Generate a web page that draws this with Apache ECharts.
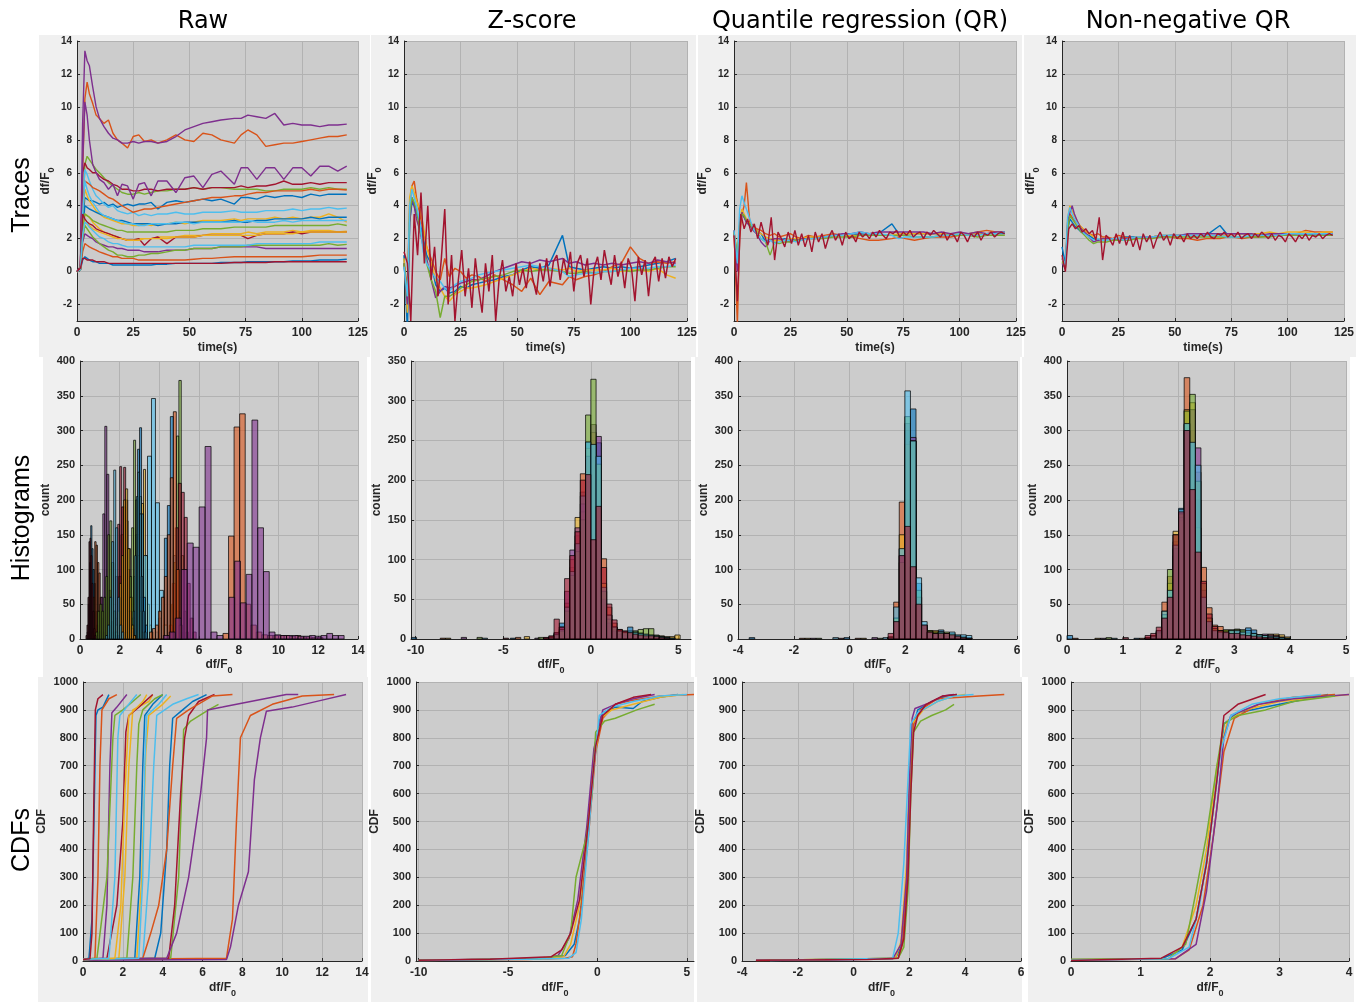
<!DOCTYPE html>
<html><head><meta charset="utf-8">
<script src="https://cdn.jsdelivr.net/npm/echarts@6/dist/echarts.min.js"></script>
<style>html,body{margin:0;padding:0;background:#fff}#c{width:1361px;height:1003px}</style>
</head><body><div id="c"></div>
<script>
// ---------------- DATA ----------------
const colTitles = ['Raw', 'Z-score', 'Quantile regression (QR)', 'Non-negative QR'];
const rowTitles = ['Traces', 'Histograms', 'CDFs'];

const timeS = [0,1.5,2.5,3.5,4.5,5.5, 7,8.5,10, 12,14,16,18,20, 22.5,25,27.5,30, 33,36,40, 44,48,52,56,60, 64,70,73,76,80, 84,88,92,96,100, 104,108,112,116,120];
const timeDense = [0,1.5,3,4.5,6,7.5,9,10.5,12,13.5, 15,16.5,18,19.5,21,22.5,24,25.5,27,28.5, 30,31.5,33,34.5,36,37.5,39,40.5,42,43.5, 45,46.5,48,49.5,51,52.5,54,55.5,57,58.5, 60,61.5,63,64.5,66,67.5,69,70.5,72,73.5, 75,76.5,78,79.5,81,82.5,84,85.5,87,88.5, 90,91.5,93,94.5,96,97.5,99,100.5,102,103.5, 105,106.5,108,109.5,111,112.5,114,115.5,117,118.5, 120];

// Raw traces (df/F0)
const rawB1 = [0,0.1,3.0,4.5,4.4,4.3, 4.3,4.2,4.1, 4.2,4.0,4.1,3.9,4.0, 4.1,4.0,4.1,4.1, 4.2,3.8,4.2, 4.3,4.2,4.3,4.4,4.3, 4.4,4.1,4.5,4.5,4.4, 4.6,4.5,4.6,4.6,4.5, 4.7,4.6,4.7,4.7,4.7];
const rawO1 = [0,0.2,6.0,10.5,11.5,10.8, 10.2,9.5,9.3, 9.0,9.2,8.4,8.0,7.8, 7.5,8.2,8.3,7.9, 8.0,7.8,8.0, 8.3,8.0,7.9,8.4,8.3, 8.0,7.8,8.3,8.6,8.3, 7.6,7.7,7.8,7.8,7.9, 8.0,8.1,8.2,8.2,8.3];
const rawY1 = [0,0.1,3.5,5.0,4.6,4.3, 4.0,3.7,3.5, 3.3,3.2,3.1,3.0,2.9, 2.9,2.8,2.8,2.9, 2.8,2.9,2.9, 3.0,2.9,3.0,3.1,3.1, 3.1,3.2,3.1,3.2,3.2, 3.2,3.3,3.2,3.3,3.2, 3.3,3.3,3.5,3.3,3.0];
const rawP1 = [0,0.3,9.0,13.4,12.8,12.5, 11.2,10.0,9.3, 8.8,8.4,8.1,8.0,7.8, 7.8,7.9,7.8,7.9, 7.9,7.8,7.9, 8.2,8.6,8.8,9.0,9.1, 9.2,9.3,9.3,9.5,9.4, 9.3,9.6,8.9,9.0,8.9, 8.9,8.8,8.9,8.9,8.95];
const rawG1 = [0,0.1,3.0,6.5,7.0,6.8, 6.5,6.2,6.0, 5.7,5.4,5.2,5.0,4.8, 4.7,4.7,4.8,4.7, 4.8,4.9,4.9, 5.0,5.0,5.1,5.0,5.1, 5.1,5.0,5.0,5.0,5.0, 4.9,4.9,5.0,5.0,5.0, 5.1,5.0,5.1,5.0,5.0];
const rawL1 = [0,0.2,4.0,6.2,5.9,5.5, 5.0,4.6,4.4, 4.1,3.9,4.0,3.7,3.6, 3.5,3.6,3.4,3.5, 3.4,3.5,3.5, 3.6,3.5,3.5,3.6,3.6, 3.6,3.7,3.6,3.6,3.6, 3.7,3.7,3.7,3.8,3.7, 3.8,3.8,3.9,3.8,3.85];
const rawR1 = [0,0.3,6.0,6.6,6.3,6.2, 6.0,6.0,5.8, 5.6,5.5,5.3,5.2,5.0, 5.0,4.9,4.9,5.0, 5.0,4.9,5.0, 5.0,5.0,5.1,5.0,5.1, 5.1,5.1,5.2,5.1,5.2, 5.2,5.3,5.5,5.3,5.3, 5.4,5.3,5.4,5.4,5.4];
const rawB2 = [0,0.1,2.5,4.0,3.9,3.8, 3.7,3.6,3.5, 3.4,3.3,3.2,3.1,3.1, 3.0,2.9,2.9,2.9, 2.9,2.8,2.9, 2.9,3.0,3.0,3.0,3.0, 3.0,3.1,3.0,3.0,3.1, 3.1,3.2,3.2,3.2,3.2, 3.3,3.2,3.3,3.3,3.3];
const rawO2 = [0,0.2,4.0,5.5,5.4,5.3, 5.1,5.0,4.9, 4.7,4.5,4.4,4.2,4.0, 3.8,3.6,3.7,3.8, 3.8,3.9,4.0, 4.1,4.2,4.3,4.4,4.5, 4.5,4.6,4.6,4.7,4.8, 4.8,4.9,4.9,4.9,4.9, 5.0,4.9,5.0,5.0,4.95];
const rawY2 = [0,0.1,2.5,3.5,3.4,3.3, 3.0,2.8,2.6, 2.4,2.3,2.2,2.1,2.0, 1.9,1.9,2.0,2.0, 2.0,2.1,2.1, 2.1,2.2,2.2,2.2,2.3, 2.3,2.3,2.3,2.4,2.3, 2.4,2.4,2.4,2.5,2.4, 2.5,2.5,2.5,2.4,2.45];
const rawP2 = [0,0.2,6.5,10.3,9.5,8.0, 6.5,6.0,5.6, 5.4,5.0,5.3,4.6,5.3, 5.2,4.4,5.3,5.4, 4.6,5.5,5.5, 4.8,5.7,5.8,5.1,5.9, 6.1,5.3,6.3,6.3,5.6, 6.3,6.3,5.6,6.3,6.3, 5.8,6.4,6.4,6.1,6.4];
const rawG2 = [0,0.1,2.5,3.5,3.4,3.3, 3.1,3.0,2.9, 2.8,2.7,2.6,2.5,2.5, 2.4,2.4,2.4,2.4, 2.4,2.4,2.4, 2.5,2.5,2.5,2.6,2.6, 2.6,2.7,2.7,2.7,2.7, 2.7,2.8,2.8,2.8,2.8, 2.8,2.8,2.8,2.9,2.8];
const rawL2 = [0,0.2,3.5,5.5,5.0,4.6, 4.2,3.9,3.6, 3.4,3.3,3.2,3.1,3.0, 2.9,2.9,2.8,2.8, 2.9,2.9,2.9, 3.0,3.0,2.9,3.0,3.0, 3.0,3.0,3.0,3.1,3.0, 3.0,3.0,3.1,3.0,3.1, 3.1,3.1,3.1,3.1,3.1];
const rawR2 = [0,0.2,3.5,3.2,3.0,2.9, 2.8,2.6,2.5, 2.4,2.3,2.2,2.1,2.0, 1.9,1.9,2.0,1.6, 2.0,2.1,1.7, 2.1,2.1,2.1,2.2,2.2, 2.2,2.2,2.2,2.0,2.2, 2.3,2.3,2.3,2.4,2.3, 2.4,2.4,2.4,2.4,2.4];
const rawB3 = [0,0.1,0.7,0.9,0.8,0.7, 0.6,0.6,0.5, 0.5,0.5,0.4,0.4,0.4, 0.4,0.4,0.4,0.4, 0.4,0.45,0.45, 0.5,0.5,0.5,0.5,0.5, 0.55,0.55,0.55,0.6,0.6, 0.6,0.6,0.6,0.65,0.65, 0.65,0.7,0.7,0.7,0.75];
const rawO3 = [0,0.1,1.2,1.7,1.6,1.5, 1.4,1.3,1.2, 1.1,1.0,0.9,0.9,0.8, 0.8,0.8,0.7,0.7, 0.7,0.7,0.7, 0.7,0.7,0.75,0.8,0.8, 0.85,0.9,0.9,0.9,0.9, 0.9,0.9,0.9,0.9,0.9, 0.95,1.0,1.0,1.0,1.0];
const rawY3 = [0,0.1,2.0,3.0,2.9,2.8, 2.6,2.5,2.4, 2.3,2.2,2.1,2.0,2.0, 1.9,1.9,1.9,2.0, 2.0,2.0,2.0, 2.1,2.1,2.1,2.2,2.2, 2.2,2.2,2.2,2.2,2.2, 2.3,2.3,2.3,2.3,2.4, 2.4,2.4,2.4,2.4,2.4];
const rawP3 = [0,0.1,1.8,2.3,2.2,2.1, 2.0,1.8,1.7, 1.6,1.5,1.5,1.4,1.4, 1.3,1.3,1.3,1.2, 1.2,1.2,1.3, 1.3,1.3,1.4,1.4,1.4, 1.5,1.5,1.5,1.5,1.5, 1.4,1.4,1.4,1.4,1.4, 1.4,1.4,1.4,1.4,1.4];
const rawG3 = [0,0.1,2.0,2.8,2.6,2.4, 2.1,1.9,1.7, 1.5,1.3,1.2,1.0,1.0, 0.9,0.9,1.0,1.0, 1.1,1.1,1.2, 1.3,1.3,1.4,1.4,1.4, 1.5,1.5,1.5,1.6,1.6, 1.6,1.6,1.6,1.6,1.6, 1.6,1.6,1.7,1.6,1.65];
const rawL3 = [0,0.1,2.2,3.0,2.9,2.7, 2.5,2.3,2.1, 2.0,1.8,1.7,1.7,1.6, 1.5,1.5,1.5,1.5, 1.5,1.5,1.5, 1.5,1.5,1.6,1.6,1.6, 1.6,1.6,1.6,1.6,1.7, 1.7,1.7,1.7,1.7,1.7, 1.7,1.8,1.8,1.8,1.8];
const rawR3 = [0,0.2,0.8,0.8,0.7,0.7, 0.7,0.6,0.6, 0.6,0.5,0.5,0.5,0.5, 0.5,0.5,0.5,0.5, 0.5,0.5,0.5, 0.5,0.5,0.5,0.5,0.5, 0.5,0.55,0.55,0.55,0.55, 0.55,0.6,0.6,0.6,0.6, 0.6,0.6,0.6,0.6,0.6];

// Z-score traces
const zB = [1.0,-3.5,3.0,4.2,4.0,3.5, 3.0,2.0,1.0, 0.5,-0.8,-1.2,-1.0,-1.3, -1.2,-0.9,-1.0,-0.8, -0.7,-0.6,-0.5, -0.3,-0.2,0.1,0.3,0.2, 0.4,2.2,0.3,0.2,0.1, 0.2,0.3,0.2,0.3,0.2, 0.3,0.4,0.5,0.6,0.8];
const zO = [0.5,-1.0,4.0,5.2,5.5,4.5, 3.5,2.5,1.5, 0.8,0.0,-0.5,0.8,-0.3, 0.2,0.0,-0.4,-0.2, -0.3,-0.6,-0.2, -0.5,-0.8,-1.2,-0.4,-1.4, -0.6,-0.8,-0.3,-0.5,-0.3, -0.2,0.0,0.3,0.5,1.5, 0.8,0.5,0.6,0.5,0.6];
const zY = [0.8,-2.5,4.5,5.2,4.8,4.3, 3.8,2.8,1.5, 0.5,-0.5,-1.0,-1.5,-1.8, -1.4,-1.2,-1.0,-1.0, -0.9,-0.8,-0.6, -0.4,-0.2,0.0,0.2,0.1, 0.2,0.1,0.2,0.0,0.1, 0.1,0.1,0.2,0.0,0.1, 0.1,0.0,0.2,-0.2,-0.4];
const zP = [0.5,-2.0,3.0,4.5,4.0,3.2, 2.5,1.5,0.8, -0.5,-1.6,-1.2,-0.9,-1.0, -0.9,-0.7,-0.6,-0.5, -0.5,-0.3,0.0, 0.2,0.4,0.6,0.5,0.7, 0.6,0.8,0.5,0.6,0.4, 0.5,0.4,0.5,0.4,0.5, 0.6,0.5,0.7,0.6,0.5];
const zG = [0.5,-1.5,3.5,4.5,4.2,3.8, 2.5,1.8,0.5, -0.5,-1.2,-2.8,-1.5,-1.5, -1.3,-1.0,-0.8,-0.6, -0.5,-0.4,-0.3, -0.2,0.0,0.1,0.0,0.1, 0.1,0.0,-0.1,-0.1,0.0, -0.1,0.0,0.0,0.1,0.0, 0.1,0.1,0.2,0.3,0.3];
const zL = [0.3,-1.5,4.0,5.0,4.5,4.0, 3.0,1.2,0.5, 0.0,-0.4,-0.6,-1.0,-1.2, -0.8,-0.6,-0.5,-0.4, -0.2,-0.1,0.0, 0.1,0.2,0.3,0.4,0.3, 0.2,0.0,-0.3,-0.2,-0.1, -0.1,0.0,0.0,0.1,0.2, 0.2,0.2,0.3,0.3,0.4];
// dark red z-score trace, sampled on timeDense
const zR = [1.2,0.5,-3.0,3.5,1.0,4.8,0.5,4.0,-0.5,1.5, -1.5,0.8,3.8,-2.0,1.0,-3.0,-0.5,1.3,-1.5,0.2, -2.2,0.8,-1.0,-2.5,0.5,-1.2,1.0,-3.0,-0.5,0.7, -1.2,-0.3,-1.5,0.5,-0.8,0.2,-1.0,0.6,-0.5,-1.4, 0.5,-0.6,0.8,-0.9,0.6,1.0,-0.5,0.8,-0.2,1.2, -1.2,0.5,1.0,-0.3,0.8,-2.0,0.2,0.9,-0.5,1.3, 0.2,-0.8,1.0,-0.3,0.6,-1.0,0.8,0.2,-1.8,0.9, -0.2,0.7,-1.5,0.5,0.9,-0.6,0.8,-0.4,0.9,0.3, 0.8];

// Quantile-regression traces
const qB = [2.3,0.8,2.5,3.5,3.3,3.0, 2.8,2.6,2.5, 2.3,1.8,2.0,1.9,1.9, 2.0,1.9,2.0,2.0, 2.0,2.1,2.1, 2.2,2.2,2.2,2.3,2.2, 2.3,2.9,2.3,2.3,2.3, 2.3,2.3,2.3,2.3,2.2, 2.3,2.3,2.3,2.3,2.3];
const qO = [2.5,-3.2,2.0,3.5,4.0,5.4, 3.0,2.8,2.6, 2.5,2.3,2.2,2.3,2.1, 2.2,2.3,2.1,2.0, 2.2,2.1,2.2, 2.3,2.2,2.1,2.0,1.9, 1.9,2.0,2.1,2.0,1.9, 2.0,2.1,2.1,2.1,2.2, 2.3,2.4,2.5,2.4,2.4];
const qY = [2.4,1.0,3.0,3.8,3.5,3.2, 2.9,2.6,2.5, 2.3,2.1,2.0,1.9,1.9, 1.9,2.0,2.0,2.0, 2.1,2.1,2.1, 2.2,2.2,2.2,2.2,2.2, 2.2,2.2,2.3,2.3,2.3, 2.3,2.3,2.3,2.3,2.3, 2.3,2.3,2.3,2.2,2.2];
const qP = [2.5,0.0,2.8,3.6,3.3,3.0, 2.8,2.5,2.3, 1.8,1.5,1.9,2.0,2.0, 1.9,1.8,1.9,2.0, 2.0,2.0,2.1, 2.2,2.3,2.3,2.4,2.3, 2.4,2.4,2.4,2.4,2.4, 2.4,2.3,2.4,2.3,2.4, 2.3,2.4,2.3,2.4,2.4];
const qG = [2.4,1.0,2.8,3.5,3.4,3.1, 2.9,2.6,2.4, 2.0,1.8,1.0,1.8,1.7, 1.8,1.8,1.9,1.9, 2.0,2.0,2.0, 2.1,2.1,2.1,2.2,2.2, 2.2,2.2,2.2,2.2,2.1, 2.1,2.1,2.2,2.2,2.2, 2.2,2.1,2.2,2.2,2.2];
const qL = [2.5,0.5,3.8,4.6,4.2,3.8, 3.2,2.6,2.3, 2.0,1.8,1.9,1.7,1.8, 1.9,1.9,1.8,1.9, 2.0,2.0,2.1, 2.2,2.2,2.3,2.4,2.3, 2.3,2.2,2.0,2.1,2.1, 2.1,2.1,2.2,2.2,2.3, 2.2,2.2,2.3,2.3,2.4];
const qR = [2.2,-1.8,3.5,2.6,3.2,2.4,2.9,2.0,3.0,2.2, 1.6,3.3,0.7,2.4,2.0,1.5,2.4,1.7,2.5,1.6, 2.3,1.5,2.2,1.2,2.4,1.8,2.3,1.4,2.1,2.5, 1.9,2.3,1.6,2.4,2.0,2.2,1.8,2.4,2.1,2.3, 2.0,2.4,2.1,2.5,2.2,2.0,2.4,2.3,2.5,2.1, 2.4,2.2,2.5,2.1,2.3,2.4,2.0,2.4,2.2,2.5, 2.3,2.1,2.4,1.9,2.3,2.2,1.8,2.4,2.2,1.8, 2.3,2.1,2.4,1.9,2.3,2.2,2.4,2.1,2.3,2.4, 2.3];

// Non-negative QR traces
const nB = [1.5,0.5,2.5,3.2,3.0,2.8, 2.6,2.4,2.3, 2.2,2.0,1.9,2.0,2.0, 2.0,2.0,2.1,2.1, 2.1,2.1,2.1, 2.2,2.2,2.2,2.2,2.2, 2.2,2.8,2.3,2.3,2.3, 2.3,2.3,2.2,2.2,2.2, 2.2,2.2,2.3,2.3,2.3];
const nO = [0.8,0.2,2.8,3.5,3.3,3.1, 2.9,2.7,2.5, 2.3,2.2,2.3,2.1,2.1, 2.0,2.2,2.1,2.0, 2.0,2.1,2.1, 2.2,2.1,2.0,2.0,1.9, 2.0,2.0,2.1,2.1,2.0, 2.1,2.1,2.2,2.2,2.2, 2.3,2.5,2.4,2.4,2.4];
const nY = [0.5,0.5,3.2,4.0,3.7,3.4, 3.0,2.7,2.5, 2.3,2.1,2.0,2.0,1.9, 2.0,2.0,2.0,2.0, 2.1,2.1,2.1, 2.2,2.2,2.2,2.2,2.2, 2.2,2.2,2.2,2.3,2.3, 2.3,2.3,2.4,2.3,2.4, 2.4,2.4,2.3,2.4,2.4];
const nP = [0.5,0.2,3.0,3.6,4.0,3.5, 3.0,2.6,2.4, 2.1,1.8,1.9,2.0,2.0, 2.0,1.9,2.0,2.0, 2.0,2.1,2.1, 2.1,2.2,2.2,2.3,2.3, 2.3,2.3,2.3,2.3,2.3, 2.3,2.2,2.3,2.3,2.3, 2.3,2.3,2.3,2.3,2.3];
const nG = [0.6,0.3,2.6,3.4,3.2,3.0, 2.7,2.4,2.2, 1.9,1.7,1.8,1.8,1.8, 1.9,1.9,1.9,1.9, 2.0,2.0,2.0, 2.1,2.1,2.1,2.1,2.1, 2.1,2.1,2.1,2.1,2.1, 2.1,2.1,2.1,2.2,2.2, 2.2,2.2,2.2,2.2,2.2];
const nL = [0.8,0.4,3.3,3.9,3.5,3.2, 2.9,2.5,2.3, 2.1,1.9,2.0,1.9,1.9, 2.0,2.0,1.9,2.0, 2.1,2.1,2.1, 2.2,2.2,2.2,2.2,2.2, 2.2,2.2,2.1,2.1,2.1, 2.2,2.2,2.2,2.2,2.3, 2.3,2.3,2.3,2.3,2.3];
const nR = [1.0,0.0,2.6,2.9,2.6,2.8,2.4,2.6,2.3,2.5, 1.9,3.3,0.7,2.2,2.0,1.6,2.3,1.7,2.4,1.6, 2.2,1.5,2.1,1.3,2.3,1.8,2.2,1.4,2.0,2.4, 1.9,2.2,1.6,2.3,2.0,2.2,1.8,2.3,2.0,2.2, 2.0,2.3,2.1,2.4,2.1,2.0,2.3,2.2,2.4,2.1, 2.3,2.1,2.4,2.0,2.2,2.3,2.0,2.3,2.1,2.4, 2.2,2.0,2.3,1.9,2.2,2.1,1.8,2.3,2.1,1.8, 2.2,2.0,2.3,1.9,2.2,2.1,2.3,2.0,2.2,2.3, 2.2];

// Raw histograms: bin start, bin width, counts
const hB1 = {start:3.8,  width:0.15, counts:[10,30,60,145,192,320,120,40,10]};
const hO1 = {start:7.2,  width:0.28, counts:[8,148,305,324,50,20,10,6,5,5,5,5,4,5,3,3,2,2]};
const hY1 = {start:2.6,  width:0.1,  counts:[5,30,80,150,205,195,244,120,50,20,10]};
const hP1 = {start:7.5,  width:0.29, counts:[60,112,52,93,315,160,97,10,6,5,5,5,4,4,5,4,5,8,5,5]};
const hG1 = {start:4.5,  width:0.12, counts:[10,50,110,292,372,120,40,10]};
const hL1 = {start:2.8,  width:0.2,  counts:[20,60,120,263,346,196,70,20]};
const hR1 = {start:4.5,  width:0.15, counts:[20,80,160,224,211,175,80,30,10]};
const hB2 = {start:2.5,  width:0.1,  counts:[10,30,90,150,273,304,180,60,20]};
const hO2 = {start:3.5,  width:0.15, counts:[10,15,20,40,60,90,150,232,327,100,20]};
const hY2 = {start:1.7,  width:0.12, counts:[10,30,90,150,190,170,130,60,30,10]};
const hP2 = {start:4.2,  width:0.3,  counts:[5,10,30,100,138,132,190,277,10,5]};
const hG2 = {start:2.3,  width:0.1,  counts:[10,40,90,160,286,200,120,40,10]};
const hL2 = {start:2.6,  width:0.08, counts:[10,40,120,205,240,180,90,40,10]};
const hR2 = {start:1.6,  width:0.1,  counts:[10,40,90,165,248,190,247,200,100,40,15,5]};
const hB3 = {start:0.36, width:0.06, counts:[10,50,110,163,130,100,80,40,20,8]};
const hO3 = {start:0.6,  width:0.07, counts:[10,60,140,135,110,95,60,30,10]};
const hY3 = {start:1.7,  width:0.1,  counts:[5,20,40,80,120,200,216,130,60,20,5]};
const hP3 = {start:0.85, width:0.1,  counts:[5,10,60,180,306,237,70,25,10,5,5]};
const hG3 = {start:0.8,  width:0.1,  counts:[10,40,50,40,60,90,150,170,110,40,10]};
const hL3 = {start:1.3,  width:0.1,  counts:[5,20,60,140,243,160,60,20,10]};
const hR3 = {start:0.3,  width:0.05, counts:[5,20,60,140,145,120,80,40,15,5]};

// Z-score histograms (shared bins)
const zBinStart = -2.7, zBinWidth = 0.3;
const zhB = [1,3,8,20,30,60,100,185,248,240,247,60,25,12,10,10,15,10,8,6,5,4,3,2,1,0];
const zhO = [1,2,6,12,45,90,130,208,230,250,200,101,40,20,12,8,8,6,5,4,3,2,2,1,0,0];
const zhY = [0,2,5,10,40,100,153,160,240,260,220,70,30,15,10,8,8,7,6,5,4,4,4,3,3,5];
const zhP = [1,2,8,15,60,112,140,170,230,270,255,50,20,10,6,5,5,4,3,2,2,1,1,0,0,0];
const zhG = [0,2,5,10,35,80,110,150,282,327,220,60,25,15,10,9,8,10,12,13,13,5,3,2,1,0];
const zhL = [1,2,6,12,40,85,120,180,248,245,230,65,30,15,10,8,10,8,7,6,5,4,3,2,1,0];
const zhR = [2,4,25,15,76,105,135,200,207,125,167,90,44,24,12,10,8,6,5,4,4,3,2,1,0,0];
const zTail = [[-10.25,2],[-8.6,1],[-8.3,1],[-7.4,2],[-6.5,2],[-6.2,1],[-5.0,1],[-4.6,1],[-4.3,2],[-3.8,3],[-3.2,1],[-3.0,2]];

// QR histograms
const qBinStart = 1.38, qBinWidth = 0.2;
const qhB = [2,20,130,300,331,80,20,10,10,13,8,6,4,3,1];
const qhO = [3,53,197,200,200,60,15,12,10,8,6,4,3,2,1];
const qhY = [2,30,150,280,285,50,15,10,12,10,8,6,4,3,2];
const qhP = [2,25,120,310,290,60,18,8,6,5,4,3,2,1,1];
const qhG = [3,30,110,320,285,70,20,12,10,10,10,8,5,3,0];
const qhL = [2,46,130,357,285,88,25,10,8,10,8,10,6,6,5];
const qhR = [8,25,120,162,104,50,20,10,8,8,8,6,4,2,1];
const qTail = [[-3.6,2],[-1.8,1],[-1.6,1],[-1.4,1],[-1.2,1],[-0.6,2],[-0.4,1],[-0.2,2],[0.2,1],[0.4,1],[0.8,2],[1.0,1],[1.2,2]];

// Non-negative QR histograms
const nBinStart = 1.4, nBinWidth = 0.1;
const nhB = [1,3,8,25,45,120,188,309,250,200,50,20,10,10,12,13,12,13,16,13,6,5,4,3,2,1];
const nhO = [2,5,12,53,90,140,180,376,300,240,103,45,20,18,12,10,9,8,6,5,4,3,2,2,1,0];
const nhY = [1,4,10,40,80,155,170,330,340,160,60,30,15,12,13,12,10,9,8,7,6,5,7,7,6,3];
const nhP = [1,3,8,30,60,130,175,300,330,275,70,25,12,10,8,8,14,10,8,6,5,7,6,5,3,1];
const nhG = [2,5,10,35,100,150,180,328,352,227,80,30,15,12,13,13,14,13,9,8,6,5,4,3,2,1];
const nhL = [1,4,12,40,70,135,186,310,283,250,60,25,12,10,10,12,12,10,12,8,6,5,4,3,2,1];
const nhR = [5,8,17,30,60,150,183,300,215,125,83,36,18,12,10,8,8,6,5,4,3,2,2,1,0,0];
const nTail = [[0.0,5],[0.1,1],[0.5,1],[0.6,1],[0.7,2],[0.8,1],[1.0,2],[1.2,1],[1.3,1]];

// Raw CDFs [df/F0, cumulative count]
const cRawB1 = [[0,5],[3.6,10],[3.9,100],[4.2,400],[4.35,700],[4.5,870],[5.0,900],[5.5,930],[6.2,955]];
const cRawO1 = [[0,5],[7.2,10],[7.5,150],[7.7,500],[7.9,800],[8.4,880],[9.5,920],[11,950],[12.6,955]];
const cRawY1 = [[0,5],[2.7,10],[2.95,300],[3.15,750],[3.3,880],[4.0,920],[4.4,950]];
const cRawP1 = [[0,3],[7.2,5],[7.4,50],[7.8,200],[8.3,320],[8.6,650],[8.9,800],[9.2,895],[10.5,910],[12,935],[13.2,955]];
const cRawG1 = [[0,5],[4.4,10],[4.8,300],[4.95,600],[5.05,830],[5.4,860],[6.3,900],[6.8,920]];
const cRawL1 = [[0,5],[3.0,10],[3.3,300],[3.55,700],[3.7,880],[4.5,920],[5.2,940],[5.8,955]];
const cRawR1 = [[0,5],[4.3,10],[4.6,200],[4.9,600],[5.1,800],[5.3,880],[5.8,930],[6.6,955]];
const cRawB2 = [[0,5],[2.6,10],[2.85,300],[3.0,700],[3.1,880],[3.5,920],[4.0,955]];
const cRawO2 = [[0,5],[3.0,10],[3.4,100],[3.8,200],[4.2,400],[4.5,700],[4.7,870],[5.3,900],[6.5,950],[7.5,955]];
const cRawY2 = [[0,5],[1.8,10],[2.1,300],[2.3,700],[2.5,900],[3.3,930],[3.5,955]];
const cRawP2 = [[0,5],[4.2,10],[4.7,100],[5.3,300],[5.9,600],[6.2,800],[6.25,900],[7.0,910],[10.2,955],[10.8,955]];
const cRawG2 = [[0,5],[2.2,10],[2.5,300],[2.7,700],[2.8,850],[3.0,900],[3.6,940],[4.0,955]];
const cRawL2 = [[0,5],[2.8,10],[3.0,300],[3.1,700],[3.2,880],[3.8,920],[4.2,955]];
const cRawR2 = [[0,5],[1.2,10],[1.7,200],[2.0,500],[2.15,820],[2.3,880],[2.8,910],[3.5,955]];
const cRawB3 = [[0,5],[0.3,10],[0.45,150],[0.55,500],[0.65,880],[0.75,900],[1.0,910],[1.3,955]];
const cRawO3 = [[0,5],[0.6,10],[0.75,300],[0.85,700],[0.95,900],[1.3,940],[1.7,955]];
const cRawY3 = [[0,5],[1.6,10],[1.9,200],[2.1,600],[2.3,880],[3.0,930],[3.2,955]];
const cRawP3 = [[0,5],[1.0,10],[1.2,200],[1.35,700],[1.45,890],[1.7,910],[2.2,955]];
const cRawG3 = [[0,5],[0.7,10],[1.2,300],[1.5,800],[1.6,880],[2.0,900],[2.5,930],[2.9,955]];
const cRawL3 = [[0,5],[1.3,10],[1.6,300],[1.75,800],[1.85,880],[2.3,920],[2.7,955]];
const cRawR3 = [[0,5],[0.35,8],[0.45,100],[0.55,600],[0.62,900],[0.75,940],[1.0,955]];

// Z-score CDFs
const czB = [[-10,3],[-5,6],[-2.5,10],[-1.8,20],[-1.3,60],[-1.0,150],[-0.6,400],[-0.2,700],[0.1,860],[0.3,890],[1,910],[2,905],[2.5,930],[3.5,945],[4.5,955]];
const czO = [[-10,2],[-4,5],[-1.8,10],[-1.4,15],[-1.2,60],[-0.9,200],[-0.5,450],[-0.1,750],[0.3,870],[1.0,920],[2.0,935],[3.5,950],[5.4,955]];
const czY = [[-10,3],[-3,8],[-1.9,15],[-1.5,60],[-1.0,200],[-0.6,450],[-0.2,720],[0.2,870],[0.8,900],[2,920],[3.5,945],[4.8,955]];
const czP = [[-10,3],[-3,10],[-2.2,20],[-1.6,80],[-1.1,220],[-0.6,480],[-0.2,760],[0.3,900],[1.0,920],[2,940],[3.2,955]];
const czG = [[-10,3],[-3.3,8],[-2.0,20],[-1.5,100],[-1.2,300],[-0.6,450],[-0.3,600],[-0.1,820],[0.4,860],[1,870],[2.2,900],[3.2,920]];
const czL = [[-10,2],[-4,6],[-1.6,10],[-1.2,30],[-0.9,150],[-0.5,450],[-0.2,700],[0.1,880],[0.8,910],[2,930],[3.5,950],[5,955]];
const czR = [[-10,3],[-6,6],[-2.6,15],[-2.0,40],[-1.5,100],[-1.0,220],[-0.5,500],[-0.1,770],[0.3,880],[1.0,920],[2.0,945],[3.0,955]];

// QR CDFs
const cqB = [[-3.5,3],[0,5],[1.5,10],[1.7,50],[1.9,300],[2.0,600],[2.1,830],[2.3,900],[2.8,930],[3.3,950],[3.7,955]];
const cqO = [[-3.5,2],[-2,4],[1.6,10],[1.75,60],[1.9,250],[2.05,650],[2.15,850],[2.4,900],[3.0,940],[4.5,950],[5.4,955]];
const cqY = [[-3,3],[1.5,10],[1.7,70],[1.9,350],[2.0,650],[2.1,850],[2.5,900],[3.0,930],[3.6,950],[4.0,955]];
const cqP = [[-3,3],[1.4,8],[1.7,60],[1.9,300],[2.0,650],[2.1,870],[2.2,905],[2.6,920],[3.2,950],[3.6,955]];
const cqG = [[-3,3],[1.6,10],[1.8,50],[1.95,250],[2.05,600],[2.15,820],[2.4,860],[2.8,880],[3.3,900],[3.6,920]];
const cqL = [[-3,2],[1.4,10],[1.6,100],[1.8,350],[1.95,650],[2.05,850],[2.3,890],[3.0,930],[3.6,950],[4.3,955]];
const cqR = [[-3.5,3],[0.5,5],[1.6,10],[1.8,80],[1.95,300],[2.05,600],[2.15,820],[2.3,880],[2.6,920],[3.2,950],[3.7,955]];

// Non-negative QR CDFs
const cnB = [[0,5],[1.3,8],[1.6,40],[1.8,150],[1.95,350],[2.1,650],[2.2,850],[2.4,890],[2.8,910],[3.2,930],[3.7,955]];
const cnO = [[0,3],[1.5,8],[1.7,40],[1.9,200],[2.05,450],[2.2,750],[2.35,870],[2.7,920],[3.2,945],[3.8,955]];
const cnY = [[0,5],[1.4,8],[1.6,50],[1.8,200],[1.95,400],[2.1,700],[2.25,860],[2.5,900],[3.0,930],[3.6,945],[4.0,955]];
const cnP = [[0,4],[1.5,8],[1.8,60],[1.95,250],[2.1,550],[2.2,800],[2.3,880],[2.7,920],[3.2,940],[4.0,955]];
const cnG = [[0,5],[1.4,8],[1.65,60],[1.8,250],[1.95,450],[2.1,700],[2.2,850],[2.4,880],[2.8,900],[3.2,930],[3.8,950]];
const cnL = [[0,3],[1.4,8],[1.7,50],[1.85,200],[2.0,450],[2.15,750],[2.3,880],[2.6,920],[3.0,940],[3.6,955]];
const cnR = [[0,2],[1.3,10],[1.6,50],[1.8,150],[1.95,350],[2.1,650],[2.2,880],[2.4,920],[2.8,955]];

// tick labels
const traceYTicks = [-2,0,2,4,6,8,10,12,14];
const zTicks = [-10,-5,0,5];

// ---------------- STYLE / BUILD ----------------
const PAL = ['#0072BD','#D95319','#EDB120','#7E2F8E','#77AC30','#4DBEEE','#A2142F'];
const TXT = '#262626';
const FONT = '"Liberation Sans", Arial, Helvetica, sans-serif';
function rgba(hex, a) { const n = parseInt(hex.slice(1), 16); return 'rgba(' + (n >> 16) + ',' + ((n >> 8) & 255) + ',' + (n & 255) + ',' + a + ')'; }

const rawTraces = [rawB1,rawO1,rawY1,rawP1,rawG1,rawL1,rawR1, rawB2,rawO2,rawY2,rawP2,rawG2,rawL2,rawR2, rawB3,rawO3,rawY3,rawP3,rawG3,rawL3,rawR3];
const zTraces = [zB,zO,zY,zP,zG,zL];
const qTraces = [qB,qO,qY,qP,qG,qL];
const nTraces = [nB,nO,nY,nP,nG,nL];
const rawHists = [hB1,hO1,hY1,hP1,hG1,hL1,hR1, hB2,hO2,hY2,hP2,hG2,hL2,hR2, hB3,hO3,hY3,hP3,hG3,hL3,hR3];
const zHists = [zhB,zhO,zhY,zhP,zhG,zhL,zhR].map(c => ({start: zBinStart, width: zBinWidth, counts: c}));
const qHists = [qhB,qhO,qhY,qhP,qhG,qhL,qhR].map(c => ({start: qBinStart, width: qBinWidth, counts: c}));
const nHists = [nhB,nhO,nhY,nhP,nhG,nhL,nhR].map(c => ({start: nBinStart, width: nBinWidth, counts: c}));
const rawCdfs = [cRawB1,cRawO1,cRawY1,cRawP1,cRawG1,cRawL1,cRawR1, cRawB2,cRawO2,cRawY2,cRawP2,cRawG2,cRawL2,cRawR2, cRawB3,cRawO3,cRawY3,cRawP3,cRawG3,cRawL3,cRawR3];
const zCdfs = [czB,czO,czY,czP,czG,czL,czR];
const qCdfs = [cqB,cqO,cqY,cqP,cqG,cqL,cqR];
const nCdfs = [cnB,cnO,cnY,cnP,cnG,cnL,cnR];

const gridBoxes = [
  [77,41,281,280],[404,41,283,280],[734,41,282,280],[1062,41,282,280],
  [80,361,278,278],[411,361,280,278],[738,361,279,278],[1067,361,279,278],
  [83,682,279,279],[416,682,278,279],[742,682,279,279],[1071,682,278,279]
];

const dfName = '{a|df/F}{s|0}';
const nameStyle = {
  color: TXT, fontFamily: FONT, fontWeight: 'bold', fontSize: 12,
  rich: {
    a: {color: TXT, fontFamily: FONT, fontWeight: 'bold', fontSize: 12, verticalAlign: 'bottom', padding: [0,0,4,0]},
    s: {color: TXT, fontFamily: FONT, fontWeight: 'bold', fontSize: 9, verticalAlign: 'bottom'}
  }
};

const xCfg = [
  {min:0,max:125,interval:25,name:'time(s)',gap:21}, {min:0,max:125,interval:25,name:'time(s)',gap:21},
  {min:0,max:125,interval:25,name:'time(s)',gap:21}, {min:0,max:125,interval:25,name:'time(s)',gap:21},
  {min:0,max:14,interval:2,name:dfName,gap:20}, {min:-10.27,max:5.72,ticks:zTicks,name:dfName,gap:20},
  {min:-4,max:6,interval:2,name:dfName,gap:20}, {min:0,max:5,interval:1,name:dfName,gap:20},
  {min:0,max:14,interval:2,name:dfName,gap:21}, {min:-10.15,max:5.4,ticks:zTicks,name:dfName,gap:21},
  {min:-4,max:6,interval:2,name:dfName,gap:21}, {min:0,max:4,interval:1,name:dfName,gap:21}
];
const yCfg = [];
for (let c = 0; c < 4; c++) yCfg.push({min:-3,max:14,ticks:traceYTicks,name:dfName,gap:21,fs:10});
yCfg.push({min:0,max:400,interval:50,name:'count',gap:28});
yCfg.push({min:0,max:350,interval:50,name:'count',gap:28});
yCfg.push({min:0,max:400,interval:50,name:'count',gap:28});
yCfg.push({min:0,max:400,interval:50,name:'count',gap:28});
for (let c = 0; c < 4; c++) yCfg.push({min:0,max:1000,interval:100,name:'CDF',gap:35});

function makeAxis(gi, o, isX) {
  const ax = {
    type: 'value', gridIndex: gi, min: o.min, max: o.max,
    name: o.name, nameLocation: 'middle', nameGap: o.gap, nameTextStyle: nameStyle,
    axisLine: {show: true, onZero: false, lineStyle: {color: TXT, width: 1}},
    axisTick: {show: true, inside: true, length: 3, lineStyle: {color: TXT}},
    axisLabel: {color: TXT, fontFamily: FONT, fontWeight: 'bold', fontSize: o.fs || (isX ? 12 : 11), margin: isX ? 6 : 5,
      showMinLabel: true, showMaxLabel: true, formatter: function (v) { return String(v); }},
    splitLine: {show: true, lineStyle: {color: '#b2b2b2', width: 1}}
  };
  if (o.ticks) { ax.axisLabel.customValues = o.ticks; ax.axisTick.customValues = o.ticks; }
  else ax.interval = o.interval;
  return ax;
}

const grids = gridBoxes.map(b => ({left: b[0], top: b[1], width: b[2], height: b[3], show: true, backgroundColor: '#cccccc', borderWidth: 0}));
const xAxes = xCfg.map((o, i) => makeAxis(i, o, true));
const yAxes = yCfg.map((o, i) => makeAxis(i, o, false));

const series = [];
function addLine(gi, data, color, w) {
  series.push({type: 'line', xAxisIndex: gi, yAxisIndex: gi, data: data, showSymbol: false, symbol: 'none',
    lineStyle: {color: color, width: w}, itemStyle: {color: color}, animation: false, silent: true, clip: true});
}
function addBars(gi, items, color) {
  series.push({type: 'custom', xAxisIndex: gi, yAxisIndex: gi, data: items, encode: {x: [0, 1], y: 2},
    animation: false, silent: true,
    renderItem: function (params, api) {
      const p0 = api.coord([api.value(0), api.value(2)]);
      const p1 = api.coord([api.value(1), 0]);
      return {type: 'rect', shape: {x: p0[0], y: p0[1], width: p1[0] - p0[0], height: p1[1] - p0[1]},
        style: {fill: rgba(color, 0.6), stroke: 'rgba(0,0,0,0.9)', lineWidth: 0.8}};
    }});
}
function histItems(h) {
  const out = [];
  h.counts.forEach((c, k) => { if (c > 0) out.push([h.start + k * h.width, h.start + (k + 1) * h.width, c]); });
  return out;
}
const pairs = (ts, a) => ts.map((t, j) => [t, a[j]]);

// Traces row
rawTraces.forEach((a, k) => addLine(0, pairs(timeS, a), PAL[k % 7], 1.4));
zTraces.forEach((a, k) => addLine(1, pairs(timeS, a), PAL[k % 7], 1.5));
addLine(1, pairs(timeDense, zR), PAL[6], 1.5);
qTraces.forEach((a, k) => addLine(2, pairs(timeS, a), PAL[k % 7], 1.4));
addLine(2, pairs(timeDense, qR), PAL[6], 1.4);
nTraces.forEach((a, k) => addLine(3, pairs(timeS, a), PAL[k % 7], 1.4));
addLine(3, pairs(timeDense, nR), PAL[6], 1.4);

// Histograms row
rawHists.forEach((h, k) => addBars(4, histItems(h), PAL[k % 7]));
zTail.forEach((p, k) => addBars(5, [[p[0], p[0] + zBinWidth, p[1]]], PAL[k % 7]));
zHists.forEach((h, k) => addBars(5, histItems(h), PAL[k % 7]));
qTail.forEach((p, k) => addBars(6, [[p[0], p[0] + qBinWidth, p[1]]], PAL[k % 7]));
qHists.forEach((h, k) => addBars(6, histItems(h), PAL[k % 7]));
nTail.forEach((p, k) => addBars(7, [[p[0], p[0] + nBinWidth, p[1]]], PAL[k % 7]));
nHists.forEach((h, k) => addBars(7, histItems(h), PAL[k % 7]));

// CDF row
rawCdfs.forEach((d, k) => addLine(8, d, PAL[k % 7], 1.5));
zCdfs.forEach((d, k) => addLine(9, d, PAL[k % 7], 1.5));
qCdfs.forEach((d, k) => addLine(10, d, PAL[k % 7], 1.5));
nCdfs.forEach((d, k) => addLine(11, d, PAL[k % 7], 1.5));

// Figure background panels, titles, row labels
const panels = [
  [39,35,331,322],[371,35,325,322],[698,35,324,322],[1024,35,332,322],
  [43,357,324,320],[371,357,320,320],[695,357,325,320],[1022,357,328,320],
  [38,677,330,325],[371,677,323,325],[697,677,325,325],[1028,677,326,325]
];
const graphic = panels.map(p => ({type: 'rect', z: -100, silent: true, shape: {x: p[0], y: p[1], width: p[2], height: p[3]}, style: {fill: '#f0f0f0'}}));
const titleX = [203, 532, 860, 1188];
colTitles.forEach((t, i) => graphic.push({type: 'text', z: 100, x: titleX[i], y: 22,
  style: {text: t, fill: '#000', font: '24px "DejaVu Sans", Verdana, sans-serif', align: 'center', verticalAlign: 'middle', textAlign: 'center', textVerticalAlign: 'middle'}}));
const rowY = [195, 518, 840];
rowTitles.forEach((t, i) => graphic.push({type: 'text', z: 100, x: 22, y: rowY[i], rotation: Math.PI / 2,
  style: {text: t, fill: '#000', font: '25px "Liberation Sans", Arial, sans-serif', align: 'center', verticalAlign: 'middle', textAlign: 'center', textVerticalAlign: 'middle'}}));

const chart = echarts.init(document.getElementById('c'), null, {renderer: 'canvas'});
chart.setOption({
  backgroundColor: '#ffffff',
  animation: false,
  textStyle: {fontFamily: FONT},
  grid: grids, xAxis: xAxes, yAxis: yAxes, series: series, graphic: graphic
});
</script>
</body></html>
